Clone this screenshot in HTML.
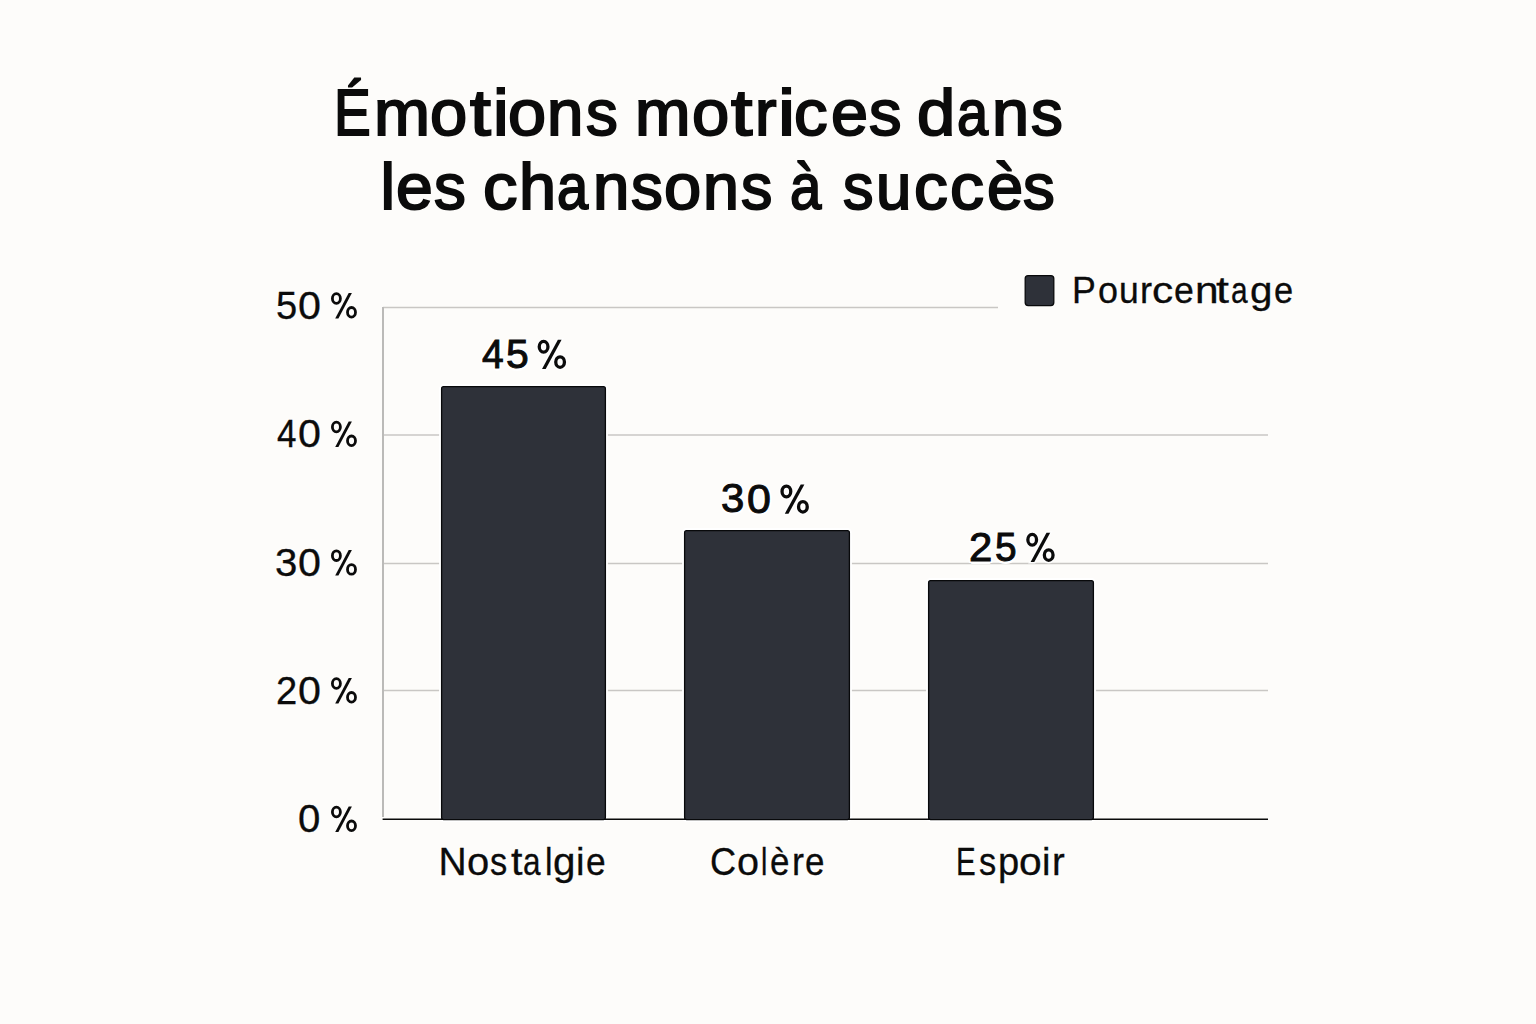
<!DOCTYPE html>
<html><head><meta charset="utf-8"><title>Émotions motrices dans les chansons à succès</title>
<style>
html,body{margin:0;padding:0}
body{width:1536px;height:1024px;background:#fdfcfa;position:relative;overflow:hidden;font-family:"Liberation Sans",sans-serif;color:#0b0b0b}
.tx{position:absolute;white-space:nowrap;line-height:1;transform-origin:0 0}
.t{font-size:65.3px;-webkit-text-stroke:2px #0b0b0b}
.ct{font-size:39px;-webkit-text-stroke:0.3px #0b0b0b}
.lg{font-size:36.8px;-webkit-text-stroke:0.3px #0b0b0b}
.g{position:absolute;left:383px;height:1px;background:#c9c7c4}
.bar{position:absolute;background:#2e3139;border:1.3px solid #08090b;border-radius:2px;box-sizing:border-box}
</style></head><body>
<div class="tx t" style="left:334.08px;top:80.20px;transform:scaleX(0.8430)">É</div>
<div class="tx t" style="left:374.40px;top:80.20px;transform:scaleX(1.0294)">m</div>
<div class="tx t" style="left:430.44px;top:80.20px;transform:scaleX(1.0245)">o</div>
<div class="tx t" style="left:469.51px;top:80.20px;transform:scaleX(1.1482)">t</div>
<div class="tx t" style="left:493.19px;top:80.20px;transform:scaleX(1.0805)">i</div>
<div class="tx t" style="left:507.91px;top:80.20px;transform:scaleX(1.0491)">o</div>
<div class="tx t" style="left:547.46px;top:80.20px;transform:scaleX(1.0011)">n</div>
<div class="tx t" style="left:586.00px;top:80.20px;transform:scaleX(0.9748)">s</div>
<div class="tx t" style="left:635.44px;top:80.20px;transform:scaleX(1.0208)">m</div>
<div class="tx t" style="left:691.95px;top:80.20px;transform:scaleX(1.0254)">o</div>
<div class="tx t" style="left:730.55px;top:80.20px;transform:scaleX(1.1791)">t</div>
<div class="tx t" style="left:755.02px;top:80.20px;transform:scaleX(0.9902)">r</div>
<div class="tx t" style="left:777.91px;top:80.20px;transform:scaleX(1.1758)">i</div>
<div class="tx t" style="left:794.44px;top:80.20px;transform:scaleX(1.0271)">c</div>
<div class="tx t" style="left:830.96px;top:80.20px;transform:scaleX(1.0194)">e</div>
<div class="tx t" style="left:869.01px;top:80.20px;transform:scaleX(0.9949)">s</div>
<div class="tx t" style="left:917.42px;top:80.20px;transform:scaleX(1.0517)">d</div>
<div class="tx t" style="left:956.72px;top:80.20px;transform:scaleX(0.8567)">a</div>
<div class="tx t" style="left:991.94px;top:80.20px;transform:scaleX(1.0201)">n</div>
<div class="tx t" style="left:1031.00px;top:80.20px;transform:scaleX(0.9748)">s</div>
<div class="tx t" style="left:380.50px;top:153.71px;transform:scaleX(1.0000)">l</div>
<div class="tx t" style="left:395.96px;top:153.71px;transform:scaleX(1.0128)">e</div>
<div class="tx t" style="left:434.49px;top:153.71px;transform:scaleX(0.9748)">s</div>
<div class="tx t" style="left:482.89px;top:153.71px;transform:scaleX(1.0534)">c</div>
<div class="tx t" style="left:518.90px;top:153.71px;transform:scaleX(1.0208)">h</div>
<div class="tx t" style="left:556.77px;top:153.71px;transform:scaleX(0.8571)">a</div>
<div class="tx t" style="left:592.96px;top:153.71px;transform:scaleX(1.0011)">n</div>
<div class="tx t" style="left:631.03px;top:153.71px;transform:scaleX(0.9737)">s</div>
<div class="tx t" style="left:664.46px;top:153.71px;transform:scaleX(1.0245)">o</div>
<div class="tx t" style="left:703.49px;top:153.71px;transform:scaleX(0.9878)">n</div>
<div class="tx t" style="left:741.04px;top:153.71px;transform:scaleX(0.9604)">s</div>
<div class="tx t" style="left:790.22px;top:153.71px;transform:scaleX(0.8621)">à</div>
<div class="tx t" style="left:842.56px;top:153.71px;transform:scaleX(0.9339)">s</div>
<div class="tx t" style="left:875.58px;top:153.71px;transform:scaleX(0.9737)">u</div>
<div class="tx t" style="left:913.96px;top:153.71px;transform:scaleX(1.0339)">c</div>
<div class="tx t" style="left:949.92px;top:153.71px;transform:scaleX(1.0405)">c</div>
<div class="tx t" style="left:986.51px;top:153.71px;transform:scaleX(0.9942)">è</div>
<div class="tx t" style="left:1023.03px;top:153.71px;transform:scaleX(0.9737)">s</div>
<svg style="position:absolute;left:0;top:0" width="1536" height="1024" viewBox="0 0 1536 1024">
<g stroke="#c9c7c4" stroke-width="1.3" fill="none">
<line x1="383" y1="307.5" x2="998" y2="307.5"/>
<line x1="383" y1="435" x2="1268" y2="435"/>
<line x1="383" y1="563.5" x2="1268" y2="563.5"/>
<line x1="383" y1="690.5" x2="1268" y2="690.5"/>
</g>
<line x1="383" y1="307" x2="383" y2="817" stroke="#bbbab8" stroke-width="2"/>
<g fill="#2e3139" stroke="#ffffff" stroke-width="5">
<rect x="441.6" y="386.6" width="163.8" height="433" rx="2"/>
<rect x="684.6" y="530.6" width="164.8" height="289" rx="2"/>
<rect x="928.6" y="580.6" width="164.8" height="239" rx="2"/>
</g>
<line x1="382.6" y1="819.3" x2="1268" y2="819.3" stroke="#0a0a0a" stroke-width="1.6"/>
<g fill="#2e3139" stroke="#08090b" stroke-width="1.3">
<rect x="441.6" y="386.6" width="163.8" height="433" rx="2"/>
<rect x="684.6" y="530.6" width="164.8" height="289" rx="2"/>
<rect x="928.6" y="580.6" width="164.8" height="239" rx="2"/>
<rect x="1025.2" y="275.6" width="28.6" height="30" rx="3"/>
</g>
</svg>
<svg style="position:absolute;left:0;top:0" width="1536" height="1024"><g fill="none" stroke="#0b0b0b"><ellipse cx="336.40" cy="298.55" rx="4.0" ry="4.85" stroke-width="2.8"/><ellipse cx="351.50" cy="312.30" rx="4.0" ry="4.8" stroke-width="2.8"/><polygon points="335.20,318.50 338.40,318.50 351.90,292.90 348.70,292.90" fill="#0b0b0b" stroke="none"/><ellipse cx="336.40" cy="427.05" rx="4.0" ry="4.85" stroke-width="2.8"/><ellipse cx="351.50" cy="440.80" rx="4.0" ry="4.8" stroke-width="2.8"/><polygon points="335.20,447.00 338.40,447.00 351.90,421.40 348.70,421.40" fill="#0b0b0b" stroke="none"/><ellipse cx="336.40" cy="555.65" rx="4.0" ry="4.85" stroke-width="2.8"/><ellipse cx="351.50" cy="569.40" rx="4.0" ry="4.8" stroke-width="2.8"/><polygon points="335.20,575.60 338.40,575.60 351.90,550.00 348.70,550.00" fill="#0b0b0b" stroke="none"/><ellipse cx="336.40" cy="683.55" rx="4.0" ry="4.85" stroke-width="2.8"/><ellipse cx="351.50" cy="697.30" rx="4.0" ry="4.8" stroke-width="2.8"/><polygon points="335.20,703.50 338.40,703.50 351.90,677.90 348.70,677.90" fill="#0b0b0b" stroke="none"/><ellipse cx="336.40" cy="812.05" rx="4.0" ry="4.85" stroke-width="2.8"/><ellipse cx="351.50" cy="825.80" rx="4.0" ry="4.8" stroke-width="2.8"/><polygon points="335.20,832.00 338.40,832.00 351.90,806.40 348.70,806.40" fill="#0b0b0b" stroke="none"/></g><g fill="none" stroke="#ffffff" opacity="0.9"><ellipse cx="543.60" cy="346.75" rx="4.35" ry="5.4" stroke-width="6.3"/><ellipse cx="560.10" cy="362.10" rx="4.35" ry="5.25" stroke-width="6.3"/><polygon points="542.00,369.00 545.70,369.00 561.60,339.80 557.90,339.80" fill="#fff" stroke="#fff" stroke-width="3"/><ellipse cx="786.40" cy="491.45" rx="4.35" ry="5.4" stroke-width="6.3"/><ellipse cx="802.90" cy="506.80" rx="4.35" ry="5.25" stroke-width="6.3"/><polygon points="784.80,513.70 788.50,513.70 804.40,484.50 800.70,484.50" fill="#fff" stroke="#fff" stroke-width="3"/><ellipse cx="1032.20" cy="539.75" rx="4.35" ry="5.4" stroke-width="6.3"/><ellipse cx="1048.70" cy="555.10" rx="4.35" ry="5.25" stroke-width="6.3"/><polygon points="1030.60,562.00 1034.30,562.00 1050.20,532.80 1046.50,532.80" fill="#fff" stroke="#fff" stroke-width="3"/></g><g fill="none" stroke="#0b0b0b"><ellipse cx="543.60" cy="346.75" rx="4.35" ry="5.4" stroke-width="3.3"/><ellipse cx="560.10" cy="362.10" rx="4.35" ry="5.25" stroke-width="3.3"/><polygon points="542.00,369.00 545.70,369.00 561.60,339.80 557.90,339.80" fill="#0b0b0b" stroke="none"/><ellipse cx="786.40" cy="491.45" rx="4.35" ry="5.4" stroke-width="3.3"/><ellipse cx="802.90" cy="506.80" rx="4.35" ry="5.25" stroke-width="3.3"/><polygon points="784.80,513.70 788.50,513.70 804.40,484.50 800.70,484.50" fill="#0b0b0b" stroke="none"/><ellipse cx="1032.20" cy="539.75" rx="4.35" ry="5.4" stroke-width="3.3"/><ellipse cx="1048.70" cy="555.10" rx="4.35" ry="5.25" stroke-width="3.3"/><polygon points="1030.60,562.00 1034.30,562.00 1050.20,532.80 1046.50,532.80" fill="#0b0b0b" stroke="none"/></g></svg>
<div class="tx ct" style="left:438.50px;top:842.15px;transform:scaleX(1.0000)">N</div>
<div class="tx ct" style="left:466.95px;top:842.15px;transform:scaleX(1.0241)">o</div>
<div class="tx ct" style="left:490.16px;top:842.15px;transform:scaleX(0.8842)">s</div>
<div class="tx ct" style="left:510.51px;top:842.15px;transform:scaleX(1.0575)">t</div>
<div class="tx ct" style="left:523.23px;top:842.15px;transform:scaleX(0.8095)">a</div>
<div class="tx ct" style="left:544.52px;top:842.15px;transform:scaleX(0.8688)">l</div>
<div class="tx ct" style="left:553.43px;top:842.15px;transform:scaleX(1.0355)">g</div>
<div class="tx ct" style="left:575.78px;top:842.15px;transform:scaleX(0.9812)">i</div>
<div class="tx ct" style="left:586.09px;top:842.15px;transform:scaleX(0.9063)">e</div>
<div class="tx ct" style="left:709.60px;top:842.15px;transform:scaleX(0.9288)">C</div>
<div class="tx ct" style="left:736.90px;top:842.15px;transform:scaleX(1.0153)">o</div>
<div class="tx ct" style="left:760.67px;top:842.15px;transform:scaleX(0.7282)">l</div>
<div class="tx ct" style="left:769.63px;top:842.15px;transform:scaleX(0.8962)">è</div>
<div class="tx ct" style="left:791.67px;top:842.15px;transform:scaleX(0.9224)">r</div>
<div class="tx ct" style="left:804.63px;top:842.15px;transform:scaleX(0.8962)">e</div>
<div class="tx ct" style="left:956.35px;top:842.35px;transform:scaleX(0.7565)">E</div>
<div class="tx ct" style="left:978.67px;top:842.35px;transform:scaleX(0.8842)">s</div>
<div class="tx ct" style="left:998.04px;top:842.35px;transform:scaleX(0.9780)">p</div>
<div class="tx ct" style="left:1018.92px;top:842.35px;transform:scaleX(1.0455)">o</div>
<div class="tx ct" style="left:1042.03px;top:842.35px;transform:scaleX(0.9761)">i</div>
<div class="tx ct" style="left:1052.04px;top:842.35px;transform:scaleX(0.9837)">r</div>
<div class="tx lg" style="left:1072.07px;top:272.68px;transform:scaleX(0.9702)">P</div>
<div class="tx lg" style="left:1097.52px;top:272.68px;transform:scaleX(0.9780)">o</div>
<div class="tx lg" style="left:1118.57px;top:272.68px;transform:scaleX(0.9649)">u</div>
<div class="tx lg" style="left:1139.53px;top:272.68px;transform:scaleX(0.9837)">r</div>
<div class="tx lg" style="left:1151.80px;top:272.68px;transform:scaleX(1.1528)">c</div>
<div class="tx lg" style="left:1174.05px;top:272.68px;transform:scaleX(0.9678)">e</div>
<div class="tx lg" style="left:1194.59px;top:272.68px;transform:scaleX(1.1528)">n</div>
<div class="tx lg" style="left:1216.47px;top:272.68px;transform:scaleX(1.2660)">t</div>
<div class="tx lg" style="left:1230.76px;top:272.68px;transform:scaleX(0.8126)">a</div>
<div class="tx lg" style="left:1250.34px;top:272.68px;transform:scaleX(1.0964)">g</div>
<div class="tx lg" style="left:1273.59px;top:272.68px;transform:scaleX(0.9347)">e</div>
<div class="tx" style="left:275.60px;top:286.80px;font-size:38.00px;-webkit-text-stroke:0.3px #0b0b0b;transform:scaleX(1.0020);letter-spacing:0px">5</div>
<div class="tx" style="left:297.80px;top:286.80px;font-size:38.00px;-webkit-text-stroke:0.3px #0b0b0b;transform:scaleX(1.0852);letter-spacing:0px">0</div>
<div class="tx" style="left:276.60px;top:415.30px;font-size:38.00px;-webkit-text-stroke:0.3px #0b0b0b;transform:scaleX(0.9213);letter-spacing:0px">4</div>
<div class="tx" style="left:297.80px;top:415.30px;font-size:38.00px;-webkit-text-stroke:0.3px #0b0b0b;transform:scaleX(1.0852);letter-spacing:0px">0</div>
<div class="tx" style="left:275.00px;top:543.60px;font-size:38.00px;-webkit-text-stroke:0.3px #0b0b0b;transform:scaleX(1.0568);letter-spacing:0px">3</div>
<div class="tx" style="left:297.80px;top:543.60px;font-size:38.00px;-webkit-text-stroke:0.3px #0b0b0b;transform:scaleX(1.0852);letter-spacing:0px">0</div>
<div class="tx" style="left:275.60px;top:671.50px;font-size:38.00px;-webkit-text-stroke:0.3px #0b0b0b;transform:scaleX(1.0035);letter-spacing:0px">2</div>
<div class="tx" style="left:297.80px;top:671.50px;font-size:38.00px;-webkit-text-stroke:0.3px #0b0b0b;transform:scaleX(1.0852);letter-spacing:0px">0</div>
<div class="tx" style="left:297.80px;top:800.30px;font-size:38.00px;-webkit-text-stroke:0.3px #0b0b0b;transform:scaleX(1.0567);letter-spacing:0px">0</div>
<div class="tx" style="left:482.20px;top:334.18px;font-size:40.80px;-webkit-text-stroke:1px #0b0b0b;text-shadow:0 2.5px 0 #fff,2px 2px 0 #fff,-2px 2px 0 #fff,2.5px 0 0 #fff,-2.5px 0 0 #fff;transform:scaleX(0.9554);letter-spacing:0px">4</div>
<div class="tx" style="left:506.20px;top:334.18px;font-size:40.80px;-webkit-text-stroke:1px #0b0b0b;text-shadow:0 2.5px 0 #fff,2px 2px 0 #fff,-2px 2px 0 #fff,2.5px 0 0 #fff,-2.5px 0 0 #fff;transform:scaleX(1.0009);letter-spacing:0px">5</div>
<div class="tx" style="left:721.40px;top:478.38px;font-size:40.80px;-webkit-text-stroke:1px #0b0b0b;text-shadow:0 2.5px 0 #fff,2px 2px 0 #fff,-2px 2px 0 #fff,2.5px 0 0 #fff,-2.5px 0 0 #fff;transform:scaleX(1.0272);letter-spacing:0px">3</div>
<div class="tx" style="left:747.20px;top:479.38px;font-size:40.80px;-webkit-text-stroke:1px #0b0b0b;text-shadow:0 2.5px 0 #fff,2px 2px 0 #fff,-2px 2px 0 #fff,2.5px 0 0 #fff,-2.5px 0 0 #fff;transform:scaleX(1.0530);letter-spacing:0px">0</div>
<div class="tx" style="left:968.60px;top:526.88px;font-size:40.80px;-webkit-text-stroke:1px #0b0b0b;text-shadow:0 2.5px 0 #fff,2px 2px 0 #fff,-2px 2px 0 #fff,2.5px 0 0 #fff,-2.5px 0 0 #fff;transform:scaleX(1.0274);letter-spacing:0px">2</div>
<div class="tx" style="left:995.20px;top:526.88px;font-size:40.80px;-webkit-text-stroke:1px #0b0b0b;text-shadow:0 2.5px 0 #fff,2px 2px 0 #fff,-2px 2px 0 #fff,2.5px 0 0 #fff,-2.5px 0 0 #fff;transform:scaleX(0.9524);letter-spacing:0px">5</div>
</body></html>
